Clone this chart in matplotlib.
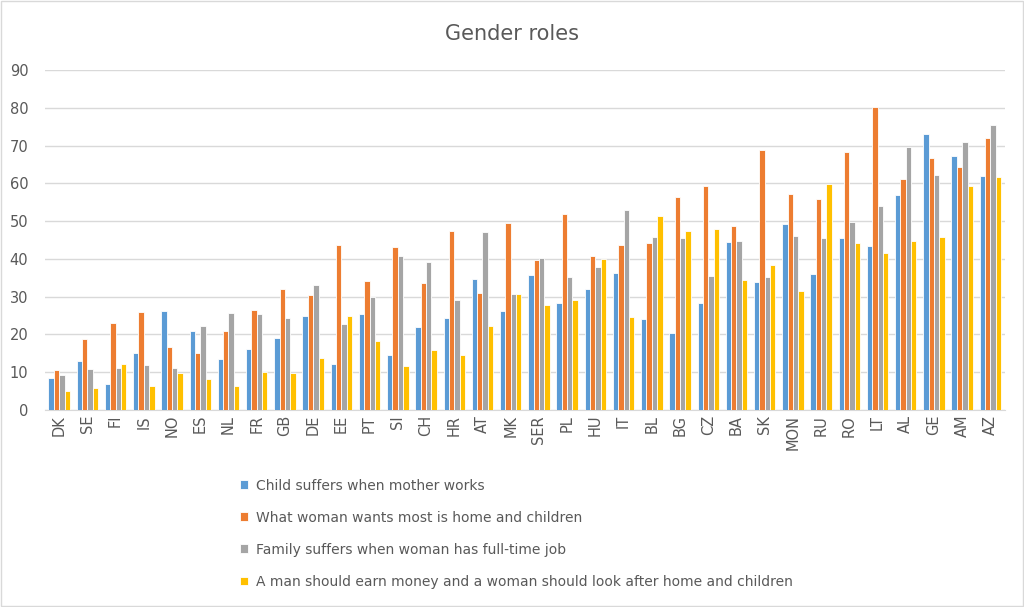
import numpy as np
import matplotlib
matplotlib.use("Agg")
import matplotlib.pyplot as plt
from matplotlib.patches import Rectangle

countries = ["DK", "SE", "FI", "IS", "NO", "ES", "NL", "FR", "GB", "DE", "EE", "PT", "SI", "CH",
             "HR", "AT", "MK", "SER", "PL", "HU", "IT", "BL", "BG", "CZ", "BA", "SK", "MON", "RU",
             "RO", "LT", "AL", "GE", "AM", "AZ"]

child_suffers = [8.5, 13, 7, 15, 26.3, 20.8, 13.6, 16.2, 19, 25, 12.2, 25.3, 14.5, 22,
                 24.3, 34.7, 26.2, 35.7, 28.2, 32, 36.2, 24, 20.3, 28.2, 44.4, 33.8, 49.2, 35.9,
                 45.6, 43.3, 57, 73, 67.2, 61.9]
woman_wants_home = [10.5, 18.8, 23, 26, 16.7, 15, 20.9, 26.5, 32, 30.5, 43.7, 34.2, 43.2, 33.7,
                    47.3, 31, 49.5, 39.8, 52, 40.7, 43.6, 44.1, 56.3, 59.3, 48.6, 68.7, 57.2, 55.9,
                    68.4, 80.2, 61.1, 66.8, 64.3, 71.9]
family_suffers = [9.3, 10.8, 11.2, 11.8, 11.2, 22.3, 25.8, 25.5, 24.3, 33, 22.7, 30, 40.8, 39.2,
                  29, 47, 30.7, 40.3, 35.2, 37.8, 53, 45.8, 45.5, 35.5, 44.7, 35.3, 46.1, 45.6,
                  49.8, 54, 69.6, 62.1, 71, 75.5]
man_earns = [5, 5.8, 12.3, 6.3, 9.8, 8.3, 6.3, 10, 9.8, 13.7, 25, 18.3, 11.6, 16,
             14.6, 22.2, 30.8, 27.8, 29, 40, 24.7, 51.3, 47.4, 48, 34.5, 38.4, 31.5, 59.8,
             44.2, 41.6, 44.8, 45.9, 59.3, 61.6]

series = [
    ("Child suffers when mother works", child_suffers, "#5B9BD5"),
    ("What woman wants most is home and children", woman_wants_home, "#ED7D31"),
    ("Family suffers when woman has full-time job", family_suffers, "#A5A5A5"),
    ("A man should earn money and a woman should look after home and children", man_earns, "#FFC000"),
]

fig = plt.figure(figsize=(10.24, 6.07), dpi=100)
ax = fig.add_axes([0.044, 0.3245, 0.937, 0.5602])

x = np.arange(len(countries))
w = 0.19
for i, (label, vals, col) in enumerate(series):
    ax.bar(x + (i - 1.5) * w, vals, width=w, color=col, edgecolor="white",
           linewidth=0.6, label=label, zorder=3)

ax.set_xlim(-0.5, len(countries) - 0.5)
ax.set_ylim(0, 90)
ax.set_yticks(range(0, 91, 10))
ax.set_xticks(x)
ax.set_xticklabels(countries, rotation=90)
ax.tick_params(axis="both", length=0, colors="#595959", labelsize=10.5)
ax.tick_params(axis="y", pad=12)
ax.grid(axis="y", color="#d9d9d9", linewidth=1, zorder=0)
for s in ["top", "right", "left"]:
    ax.spines[s].set_visible(False)
ax.spines["bottom"].set_color("#d9d9d9")

fig.suptitle("Gender roles", y=0.96, fontsize=15, color="#595959")

fig.legend(loc="upper left", bbox_to_anchor=(0.222, 0.232), frameon=False,
           fontsize=10, labelcolor="#595959", handlelength=0.6, handleheight=0.6,
           labelspacing=1.3, handletextpad=0.6)

fig.patches.append(Rectangle((0.001, 0.001), 0.998, 0.998, transform=fig.transFigure,
                             fill=False, edgecolor="#d9d9d9", linewidth=1))

fig.savefig("out.png", dpi=100)
